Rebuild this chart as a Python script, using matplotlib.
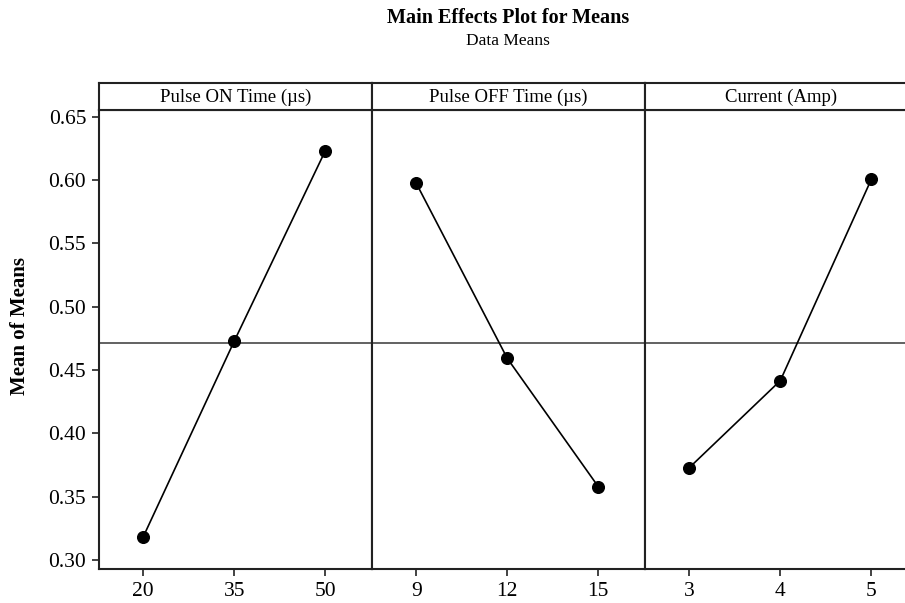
import matplotlib
matplotlib.use("Agg")
import matplotlib.pyplot as plt

plt.rcParams["font.family"] = ["Liberation Serif", "DejaVu Serif"]

# main effects
factors = ["Pulse ON Time (µs)", "Pulse OFF Time (µs)", "Current (Amp)"]
levels = [["20", "35", "50"], ["9", "12", "15"], ["3", "4", "5"]]
means_on = [0.3184, 0.4729, 0.6231]
means_off = [0.5974, 0.4592, 0.3579]
means_current = [0.3729, 0.4416, 0.6005]
grand_mean = 0.4716
y_ticks = [0.30, 0.35, 0.40, 0.45, 0.50, 0.55, 0.60, 0.65]

series = [means_on, means_off, means_current]

W, H = 905, 603
fig = plt.figure(figsize=(W / 100, H / 100), dpi=100)

left = 98.7 / W
pw = 273.0 / W
bottom = (H - 569) / H
ph = (569 - 109.5) / H
hb = (H - 109.5) / H
hh = 26.5 / H

lw_frame = 1.5
for i, (name, labs, vals) in enumerate(zip(factors, levels, series)):
    ax = fig.add_axes([left + i * pw, bottom, pw, ph])
    x = list(range(len(vals)))
    ax.axhline(grand_mean, color="#555555", lw=1.3, zorder=1)
    ax.plot(x, vals, color="black", lw=1.2, marker="o", ms=8.4, zorder=3)
    ax.set_xlim(-0.49, 2.51)
    ax.set_ylim(0.2929, 0.6557)
    ax.set_xticks(x)
    ax.set_xticklabels(labs)
    ax.set_yticks(y_ticks)
    ax.set_yticklabels([f"{v:.2f}" for v in y_ticks])
    ax.tick_params(direction="out", length=5, width=1.2, labelsize=15.5, pad=4, color="#222222")
    if i > 0:
        ax.tick_params(axis="y", left=False, labelleft=False)
    for s in ax.spines.values():
        s.set_linewidth(lw_frame)
        s.set_color("#222222")

    hdr = fig.add_axes([left + i * pw, hb, pw, hh])
    hdr.set_xticks([])
    hdr.set_yticks([])
    for s in hdr.spines.values():
        s.set_linewidth(lw_frame)
        s.set_color("#222222")
    hdr.text(0.5, 0.45, name, ha="center", va="center", fontsize=13.5, transform=hdr.transAxes)

# y label centred on panel + header strip
fig.text(20 / W, 1 - 326 / H, "Mean of Means", rotation=90, ha="center", va="center",
         fontsize=15, fontweight="bold")

cx = left + 1.5 * pw
fig.text(cx, 1 - 18 / H, "Main Effects Plot for Means", ha="center", va="center",
         fontsize=14.5, fontweight="bold")
fig.text(cx, 1 - 41 / H, "Data Means", ha="center", va="center", fontsize=12.5)

fig.savefig("out.png", dpi=100)
